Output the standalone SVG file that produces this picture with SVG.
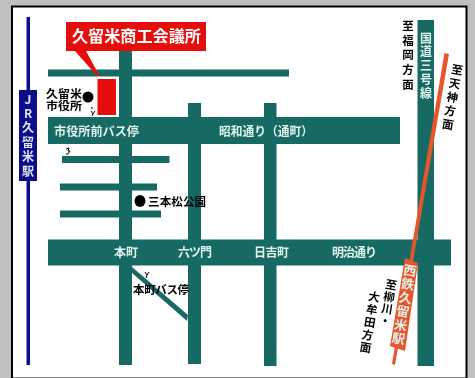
<svg xmlns="http://www.w3.org/2000/svg" width="475" height="378" viewBox="0 0 475 378">
<style>
text{font-family:"Noto Sans CJK JP","Liberation Sans",sans-serif}
.road{fill:#156b63}
.w{fill:#e4f2ee;font-size:12px;font-weight:700}
.k{fill:#000;font-size:11.5px;font-weight:700}
.v{writing-mode:vertical-rl;text-orientation:upright}
</style>
<defs><filter id="soft" x="-5%" y="-5%" width="110%" height="110%"><feGaussianBlur stdDeviation="0.4"/></filter></defs>
<rect width="475" height="378" fill="#c0c0c0"/>
<rect x="12" y="6.500" width="454.500" height="372" fill="#fff" stroke="#000" stroke-width="2"/>
<g filter="url(#soft)">
<g id="connectors">
<rect x="26.500" y="17" width="3.500" height="348" fill="#10108c"/>
<g class="road">
<rect x="48" y="69.500" width="241" height="7"/>
<rect x="119" y="51" width="13" height="314"/>
<rect x="188" y="103" width="13" height="261"/>
<rect x="264" y="103" width="12.500" height="263"/>
<rect x="417.500" y="20" width="16.500" height="346"/>
<rect x="48" y="117" width="352" height="27"/>
<rect x="62" y="156" width="107.500" height="7"/>
<rect x="60" y="183.500" width="97" height="7"/>
<rect x="60" y="210.500" width="101" height="7"/>
<rect x="48" y="239.500" width="403" height="26"/>
<polygon points="132,267 132,273 187,321 188,315"/>
</g>
<polygon points="444.500,53 449,54 395,365 392,364" fill="#e8552a"/>
<polygon points="405,258 418,263 405,351 390,346" fill="#e8552a"/>
</g>
<g id="title">
<polygon points="66,22 206,22 206,51 86,51 99,75 97,76 75,51 66,51" fill="#e60f0a"/>
<text x="72" y="42" font-size="16" font-weight="700" fill="#fff" textLength="129" lengthAdjust="spacingAndGlyphs">久留米商工会議所</text>
</g>
<g id="hall"><rect x="97.500" y="79" width="18.500" height="36" fill="#e60f0a"/></g>
<g id="city-hall">
<circle cx="88" cy="97" r="5.500"/>
<text class="k" style="font-size:11px" x="46" y="97.500" textLength="36" lengthAdjust="spacingAndGlyphs">久留米</text>
<text class="k" style="font-size:11px" x="46" y="110" textLength="36" lengthAdjust="spacingAndGlyphs">市役所</text>
<path d="M91,108 l2,0 M91,111 l2,3 l2,-3 M93,114 l-1,2" stroke="#000" fill="none"/>
</g>
<g id="jr-station">
<rect x="19" y="90" width="18" height="91" fill="#10108c"/>
<text class="v" x="28" y="93" font-size="12" fill="#dfe3f2" font-weight="700" textLength="84">JR久留米駅</text>
</g>
<g id="labels">
<text class="w" x="54" y="136" textLength="85" lengthAdjust="spacingAndGlyphs">市役所前バス停</text>
<text class="w" x="219" y="136" textLength="94" lengthAdjust="spacingAndGlyphs">昭和通り（通町）</text>
<text class="w" x="114" y="257">本町</text>
<text class="w" x="178" y="257" textLength="34">六ツ門</text>
<text class="w" x="254" y="257" textLength="35">日吉町</text>
<text class="w" x="332" y="257" textLength="45">明治通り</text>
<text class="v w" x="426" y="32" textLength="67">国道三号線</text>
<text class="v k" x="408" y="20" textLength="70">至福岡方面</text>
<text class="v w" style="font-size:13px" transform="translate(411,264) rotate(9.500)" x="0" y="0" textLength="82">西鉄久留米駅</text>
<text class="v k" transform="translate(458,64) rotate(9.500)" x="0" y="0" textLength="67">至天神方面</text>
<text class="v k" transform="translate(392,279) rotate(9.500)" x="0" y="0" textLength="48">至柳川・</text>
<text class="v k" transform="translate(375,291) rotate(9.500)" x="0" y="0" textLength="63">大牟田方面</text>
</g>
<g id="sanbonmatsu-park">
<ellipse cx="140" cy="201" rx="5.500" ry="6"/>
<text class="k" x="148" y="205.500" textLength="58">三本松公園</text>
</g>
<g id="honmachi-stop">
<text class="k" x="133" y="294" textLength="56">本町バス停</text>
<path d="M145,272 l2,3 l2,-3 M147,275 l-1,3" stroke="#000" fill="none"/>
</g>
<g id="stop-mark"><path d="M66,149 l3,-1 l-1,3 l2,0 l-2,3 l-2,0" stroke="#000" fill="none"/></g>
</g>
</svg>
